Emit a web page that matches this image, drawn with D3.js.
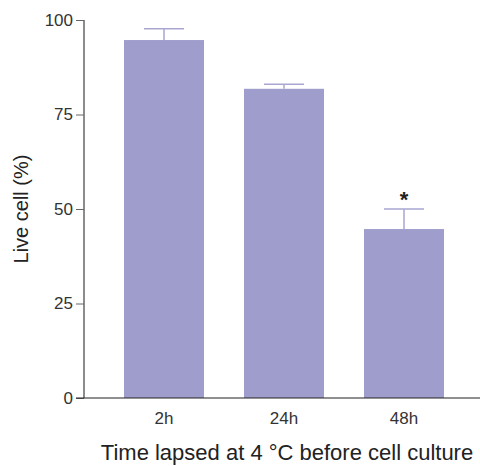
<!DOCTYPE html>
<html lang="en">
<head>
  <meta charset="UTF-8">
  <title>Live cell</title>
  <style>
    body { margin: 0; background: #fff; }
    svg { display: block; font-family: "Liberation Sans", Arial, sans-serif; }
    .bar { fill: #9f9dcc; }
    .err { stroke: #a9a7d2; stroke-width: 1.5; fill: none; }
    .axis text { font-size: 17px; fill: #333; }
  </style>
</head>
<body>
  <div id="chart"></div>
  <script src="https://d3js.org/d3.v7.min.js"></script>
  <script>
    const categories = ['2h', '24h', '48h'];
    const values = [94.7, 81.8, 44.7];
    const errors = [3.0, 1.2, 5.3];
    const marks = ['', '', '*'];
    const yTicks = [0, 25, 50, 75, 100];

    const width = 480, height = 466;
    const x0 = 84, yBottom = 398, yTop = 20;

    const svg = d3.select('#chart').append('svg')
      .attr('width', width).attr('height', height);

    const x = d3.scaleBand()
      .domain(categories)
      .range([x0, x0 + 400])
      .paddingInner(1 / 3)
      .paddingOuter(1 / 3);

    const y = d3.scaleLinear().domain([0, 100]).range([yBottom, yTop]);

    const data = categories.map((c, i) => ({ c, v: values[i], e: errors[i], m: marks[i] }));

    // bars
    svg.selectAll('.bar').data(data).enter().append('rect')
      .classed('bar', true)
      .attr('x', d => x(d.c))
      .attr('y', d => y(d.v))
      .attr('width', x.bandwidth())
      .attr('height', d => y(0) - y(d.v));

    // error bars (upper only)
    const cap = x.bandwidth() / 4;
    svg.selectAll('.err').data(data).enter().append('path')
      .classed('err', true)
      .attr('d', d => {
        const cx = x(d.c) + x.bandwidth() / 2;
        return `M${cx},${y(d.v)}V${y(d.v + d.e)}M${cx - cap},${y(d.v + d.e)}H${cx + cap}`;
      });

    // significance marks
    svg.selectAll('.mark').data(data.filter(d => d.m)).enter().append('text')
      .attr('x', d => x(d.c) + x.bandwidth() / 2)
      .attr('y', d => y(d.v + d.e) - 2)
      .attr('text-anchor', 'middle')
      .style('font-size', '22px')
      .style('font-weight', 'bold')
      .style('fill', '#222')
      .text(d => d.m);

    // y axis
    const yAxis = svg.append('g').classed('axis', true)
      .attr('transform', `translate(${x0},0)`)
      .call(d3.axisLeft(y).tickValues(yTicks).tickSize(8).tickPadding(3));
    yAxis.select('.domain').attr('d', `M0,${yTop}V${yBottom}`).attr('stroke', '#666').attr('stroke-width', 1.5);
    yAxis.selectAll('.tick line').attr('stroke', '#666');

    // x axis
    const xAxis = svg.append('g').classed('axis', true)
      .attr('transform', `translate(0,${yBottom})`)
      .call(d3.axisBottom(x).tickSize(0).tickPadding(14));
    xAxis.select('.domain').attr('d', `M${x0 - 8},0H${x0 + 400}`).attr('stroke', '#222').attr('stroke-width', 1.2);

    // labels
    svg.append('text')
      .attr('transform', `translate(28,209) rotate(-90)`)
      .attr('text-anchor', 'middle')
      .style('font-size', '20px')
      .style('fill', '#222')
      .text('Live cell (%)');

    svg.append('text')
      .attr('x', 287).attr('y', 460)
      .attr('text-anchor', 'middle')
      .style('font-size', '22px')
      .style('fill', '#222')
      .text('Time lapsed at 4 °C before cell culture');
  </script>
</body>
</html>
